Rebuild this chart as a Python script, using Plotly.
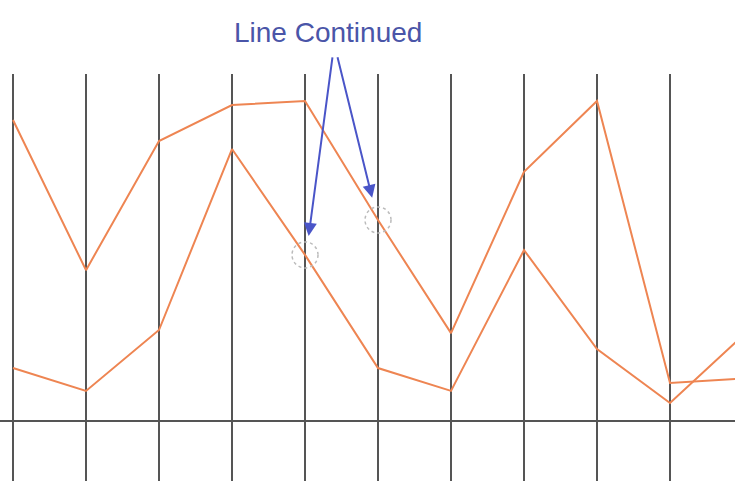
import plotly.graph_objects as go

# category positions (vertical grid columns)
x_pos = [0, 1, 2, 3, 4, 5, 6, 7, 8, 9, 10]
# series values (0 = horizontal baseline)
upper = [87.0, 43.6, 80.9, 91.3, 92.5, 58.1, 25.4, 72.0, 92.5, 11.0, 12.3]
lower = [15.3, 8.7, 26.3, 78.6, 48.0, 15.3, 8.7, 49.4, 20.8, 5.2, 24.7]
# points where the lines are "continued"
cont_x = [4, 5]
cont_y = [lower[4], upper[5]]
label = "Line Continued"

orange = "#EE8552"
grid = "#555555"

fig = go.Figure()
for s in (upper, lower):
    fig.add_trace(go.Scatter(x=x_pos, y=s, mode="lines",
                             line=dict(color=orange, width=2), showlegend=False,
                             hoverinfo="skip"))

for cx, cy in zip(cont_x, cont_y):
    fig.add_shape(type="circle", xref="x", yref="y", xsizemode="pixel", ysizemode="pixel",
                  xanchor=cx, yanchor=cy, x0=-13, x1=13, y0=-13, y1=13,
                  line=dict(color="#BBBBBB", width=1.5, dash="dot"))

fig.add_annotation(xref="paper", yref="paper", x=328/735, y=1-33/481, text=label,
                   xanchor="center", yanchor="middle",
                   showarrow=False, font=dict(family="Liberation Sans, Arial", size=28, color="#4A55A8"))
# arrows from the label to the circles
fig.add_annotation(x=4.05, y=53.5, xref="x", yref="y", text="", showarrow=True,
                   ax=24, ay=-180, arrowhead=2, arrowsize=1.3, arrowwidth=2, arrowcolor="#4A55C8")
fig.add_annotation(x=4.92, y=64.5, xref="x", yref="y", text="", showarrow=True,
                   ax=-35, ay=-142, arrowhead=2, arrowsize=1.3, arrowwidth=2, arrowcolor="#4A55C8")

fig.update_layout(width=735, height=481, margin=dict(l=0, r=0, t=0, b=0),
                  paper_bgcolor="white", plot_bgcolor="white",
                  xaxis=dict(range=[-13/73, 722/73], showgrid=True, dtick=1, tick0=0,
                             gridcolor=grid, gridwidth=2, zeroline=False,
                             showticklabels=False, ticks=""),
                  yaxis=dict(range=[-60/3.46, 347/3.46], domain=[0, 1-74/481],
                             showgrid=False, zeroline=True, zerolinecolor=grid, zerolinewidth=2,
                             showticklabels=False, ticks=""))

fig.write_html("out.html", config={"displayModeBar": False},
               post_script="document.body.style.margin='0px';")
